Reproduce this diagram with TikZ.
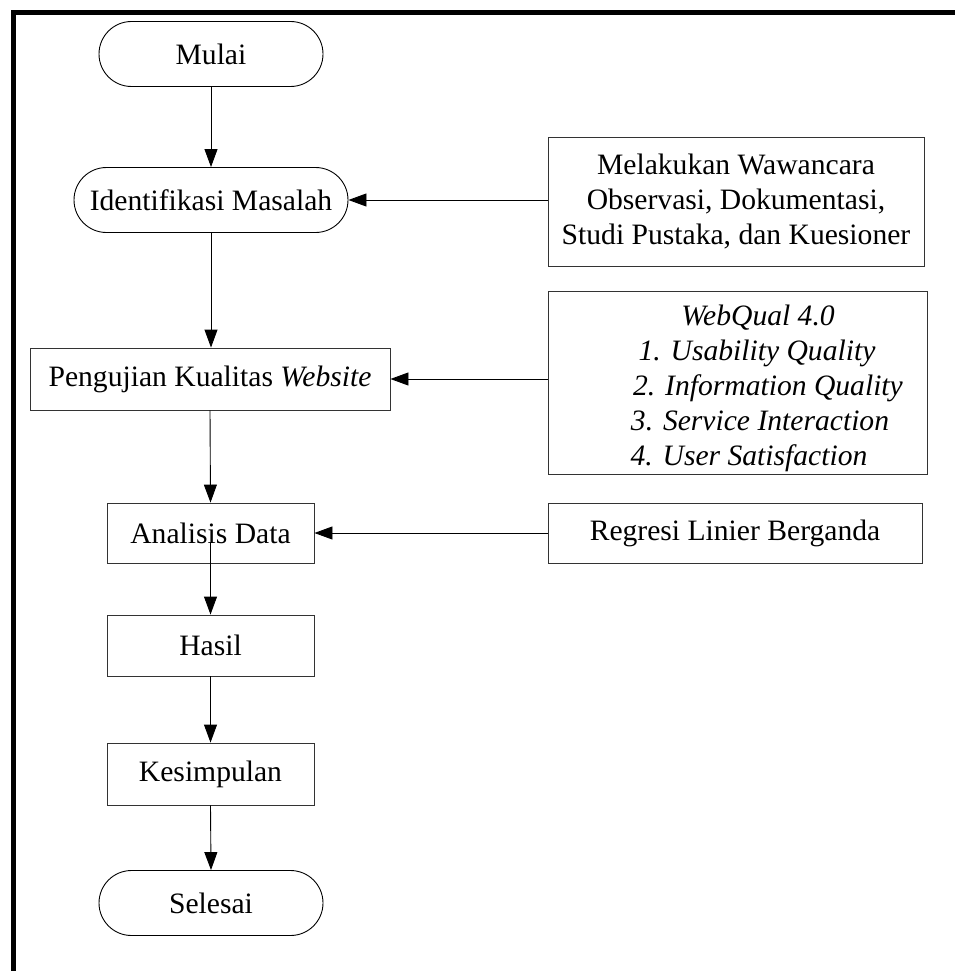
\documentclass[tikz,border=0pt]{standalone}
\usepackage{fontspec}
\setmainfont{Liberation Serif}
\usetikzlibrary{arrows.meta,calc}

\tikzset{
  every node/.style={font=\fontsize{29.6}{35}\selectfont, inner sep=0pt},
  terminal/.style={draw=black, line width=0.9pt, rounded corners=32.5pt,
                   minimum width=#1, minimum height=65pt},
  terminal/.default=224pt,
  procbox/.style={draw=black!80, line width=0.9pt, minimum height=61pt},
  infobox/.style={draw=black!80, line width=0.9pt},
  itemline/.style={anchor=base, font=\fontsize{29.6}{35}\selectfont\itshape},
  flow/.style={line width=0.9pt, -{Triangle[length=18pt,width=13pt]}},
}

\begin{document}
\begin{tikzpicture}[x=1pt,y=-1pt]
\useasboundingbox (0,0) rectangle (955,971);

% outer frame (top and left edges)
\draw[line width=5pt, line join=miter] (13,971) -- (13,13) -- (955,13);

% main flow
\node[terminal] (mulai) at (211,54) {Mulai};
\node[terminal=274pt] (ident) at (211,200) {Identifikasi Masalah};
\node[procbox, minimum width=360pt, minimum height=62pt] (peng) at (210,379)
  {Pengujian Kualitas \textit{Website}};
\node[procbox, minimum width=207pt, minimum height=60pt] (ana) at (210.5,533) {Analisis Data};
\node[procbox, minimum width=207pt] (hasil) at (210.5,645.5) {Hasil};
\node[procbox, minimum width=207pt, minimum height=62pt] (kes) at (210.5,774) {Kesimpulan};
\node[terminal] (sel) at (211,903) {Selesai};

% supporting inputs
\node[infobox, minimum width=376pt, minimum height=129pt, align=center] (obs) at (736,201.5)
  {Melakukan Wawancara\\Observasi, Dokumentasi,\\Studi Pustaka, dan Kuesioner};

\node[infobox, minimum width=379pt, minimum height=183pt] (webq) at (737.5,382.5) {};
\node[itemline] (wq0) at (758,325) {WebQual 4.0};
\node[itemline] (wq1) at (757,360) {1. Usability Quality};
\node[itemline] (wq2) at (768,395) {2. Information Quality};
\node[itemline] (wq3) at (760,430) {3. Service Interaction};
\node[itemline] (wq4) at (749,465) {4. User Satisfaction};

\node[infobox, minimum width=374pt, minimum height=60pt] (reg) at (735,533) {Regresi Linier Berganda};

% vertical connectors
\draw[flow] (mulai.south) -- (ident.north);
\draw[flow] (ident.south) -- (ident.south |- peng.north);
\draw[flow] (peng.south) -- (ana.north);
\coordinate (anaout) at ($(ana.center)+(0,10)$);
\draw[flow] (anaout) -- (hasil.north);
\draw[flow] (hasil.south) -- (kes.north);
\draw[flow] (kes.south) -- (sel.north);

% horizontal connectors
\draw[flow] (obs.west |- ident.east) -- (ident.east);
\draw[flow] (webq.west |- peng.east) -- (peng.east);
\draw[flow] (reg.west) -- (ana.east);
\end{tikzpicture}
\end{document}
